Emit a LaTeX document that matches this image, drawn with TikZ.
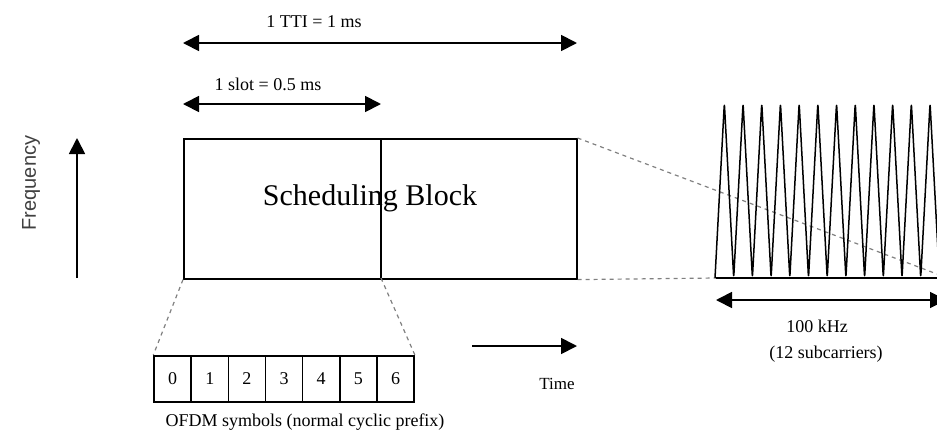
\documentclass[tikz,border=0pt]{standalone}
\usepackage{fontspec}
\setmainfont{Liberation Serif}
\newfontfamily\freqfont{Liberation Sans}
\usetikzlibrary{arrows.meta}
\begin{document}
\begin{tikzpicture}[x=1pt,y=-1pt,
  tip/.tip={Triangle[length=16pt,width=16pt]},
  dimarrow/.style={line width=1.8pt, {tip}-{tip}},
  onearrow/.style={line width=1.8pt, -{tip}},
  boxline/.style={line width=1.6pt},
  zoomline/.style={gray, line width=1.2pt, dash pattern=on 4pt off 4pt},
  lbl/.style={font=\fontsize{18}{20}\selectfont, inner sep=0pt},
  cell/.style={boxline, draw, minimum width=37.14pt, minimum height=46pt, anchor=north west, inner sep=0pt, font=\fontsize{18}{20}\selectfont},
]
\useasboundingbox (0,0) rectangle (937,437);
\begin{scope}
\clip (0,0) rectangle (937,437);

% top dimension arrows
\coordinate (ttiL) at (183,43);
\coordinate (ttiR) at (577,43);
\draw[dimarrow] (ttiL) -- (ttiR);
\node[lbl] (tti) at (314,22) {1 TTI = 1 ms};

\coordinate (slotL) at (183,104);
\coordinate (slotR) at (381,104);
\draw[dimarrow] (slotL) -- (slotR);
\node[lbl] (slot) at (268,84) {1 slot = 0.5 ms};

% scheduling block
\node[boxline, draw, minimum width=393pt, minimum height=140pt, anchor=north west, inner sep=0pt] (sb) at (183,138) {};
\coordinate (divT) at (381,138);
\coordinate (divB) at (381,278);
\draw[boxline] (divT) -- (divB);
\node[font=\fontsize{30}{32}\selectfont, inner sep=0pt] (sbtext) at (370,198) {Scheduling Block};

% frequency axis
\coordinate (fB) at (77,278);
\coordinate (fT) at (77,138);
\draw[onearrow] (fB) -- (fT);
\node[rotate=90, font=\freqfont\fontsize{20}{22}\selectfont, inner sep=0pt, black!75] (freq) at (31,183) {Frequency};

% OFDM symbols
\foreach \i in {0,...,6}
  \node[cell] (c\i) at ({153.3+37.14*\i},355) {\i};
\node[lbl] (ofdm) at (305,422) {OFDM symbols (normal cyclic prefix)};
\draw[zoomline] (sb.south west) -- (c0.north west);
\draw[zoomline] (divB) -- (c6.north east);

% time axis
\coordinate (tL) at (472,346);
\coordinate (tR) at (577,346);
\draw[onearrow] (tL) -- (tR);
\node[font=\fontsize{17}{19}\selectfont, inner sep=0pt] (time) at (557,384) {Time};

% subcarriers
\coordinate (wl) at (716,278);
\coordinate (wr) at (937,278);
\coordinate (zr) at (937,274);
\coordinate (w0) at (715,278);
\draw[zoomline] (sb.north east) -- (zr);
\draw[zoomline] (sb.south east) -- (wl);
\draw[line width=1.5pt, line join=round, rounded corners=4pt] (w0)
  \foreach \k in {0,...,11} { -- ++(9.35,-175) -- ++(9.35,175) };
\draw[boxline] (wl) -- (wr);

\coordinate (kL) at (716,300);
\coordinate (kR) at (946,300);
\draw[dimarrow] (kL) -- (kR);
\node[lbl] (khz) at (817,326) {100 kHz};
\node[lbl] (sub) at (826,354) {(12 subcarriers)};
\end{scope}
\end{tikzpicture}
\end{document}
